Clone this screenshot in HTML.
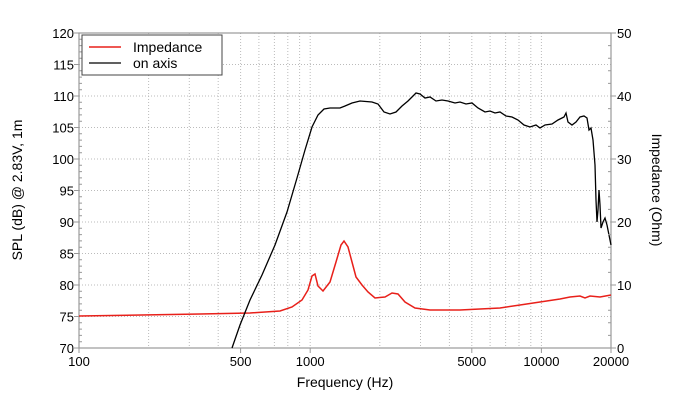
<!DOCTYPE html>
<html><head><style>body{margin:0;background:#fff}</style></head><body>
<svg width="689" height="413" xmlns="http://www.w3.org/2000/svg" font-family="Liberation Sans, sans-serif" font-size="13">
<rect width="689" height="413" fill="#fff"/>
<g stroke="#bbb" stroke-dasharray="1,2" stroke-width="1">
<line x1="79" y1="96" x2="611" y2="96"/><line x1="79" y1="64.5" x2="611" y2="64.5"/>
<line x1="79" y1="127.5" x2="611" y2="127.5"/><line x1="79" y1="159" x2="611" y2="159"/><line x1="79" y1="190.5" x2="611" y2="190.5"/>
<line x1="79" y1="222" x2="611" y2="222"/><line x1="79" y1="253.5" x2="611" y2="253.5"/><line x1="79" y1="285" x2="611" y2="285"/><line x1="79" y1="316.5" x2="611" y2="316.5"/>
<line x1="148.6" y1="33" x2="148.6" y2="348"/><line x1="189.3" y1="33" x2="189.3" y2="348"/><line x1="218.2" y1="33" x2="218.2" y2="348"/><line x1="240.6" y1="33" x2="240.6" y2="348"/><line x1="258.9" y1="33" x2="258.9" y2="348"/><line x1="274.4" y1="33" x2="274.4" y2="348"/><line x1="287.8" y1="33" x2="287.8" y2="348"/><line x1="299.6" y1="33" x2="299.6" y2="348"/><line x1="310.2" y1="33" x2="310.2" y2="348"/>
<line x1="379.8" y1="33" x2="379.8" y2="348"/><line x1="420.5" y1="33" x2="420.5" y2="348"/><line x1="449.4" y1="33" x2="449.4" y2="348"/><line x1="471.8" y1="33" x2="471.8" y2="348"/><line x1="490.1" y1="33" x2="490.1" y2="348"/><line x1="505.6" y1="33" x2="505.6" y2="348"/><line x1="519" y1="33" x2="519" y2="348"/><line x1="530.8" y1="33" x2="530.8" y2="348"/><line x1="541.4" y1="33" x2="541.4" y2="348"/>
</g>
<rect x="79" y="33" width="532" height="315" fill="none" stroke="#999" stroke-width="1.2"/>
<g stroke="#999" stroke-width="1" id="tk"></g>
<polyline fill="none" stroke="#e8201a" stroke-width="1.5" points="79,316 200,314 250,313 280,311 292,307 302,300 308,290 312,276 315,274 318,286 323,291 330,282 336,262 341,245 344,241 348,247 352,262 356,277 362,285 368,292 375,298 385,297 392,293 398,294 405,302 415,308 430,310 460,310 500,308 520,305 540,302 560,299 570,297 580,296 585,298 590,296 600,297 611,295"/>
<polyline fill="none" stroke="#000" stroke-width="1.3" points="232,348 240,325 250,300 262,275 275,245 287,212 297,178 305,150 312,127 318,115 324,109 330,108 340,108 345,106 352,103 360,101 372,102 378,104 384,112 390,114 396,112 402,106 408,101 412,97 416,93 420,94 425,98 430,97 436,101 442,100 448,101 455,103 460,102 466,104 472,103 478,108 485,112 490,111 495,113 500,112 506,116 512,117 518,120 524,125 530,127 536,125 540,128 545,125 552,124 558,120 564,117 566,113 568,122 572,125 576,122 580,117 584,116 587,118 589,130 591,128 593,140 595,165 596,200 597,222 598,210 599,190 600,205 601,228 603,222 605,218 607,225 609,235 611,245"/>
<g fill="#000" text-anchor="end">
<text x="74" y="38">120</text><text x="74" y="69.5">115</text><text x="74" y="101">110</text><text x="74" y="132.5">105</text><text x="74" y="164">100</text><text x="74" y="195.5">95</text><text x="74" y="227">90</text><text x="74" y="258.5">85</text><text x="74" y="290">80</text><text x="74" y="321.5">75</text><text x="74" y="353">70</text>
</g>
<g fill="#000">
<text x="617" y="38">50</text><text x="617" y="101">40</text><text x="617" y="164">30</text><text x="617" y="227">20</text><text x="617" y="290">10</text><text x="617" y="353">0</text>
</g>
<g fill="#000" text-anchor="middle">
<text x="79" y="366">100</text><text x="240.6" y="366">500</text><text x="310.2" y="366">1000</text><text x="471.8" y="366">5000</text><text x="541.4" y="366">10000</text><text x="611" y="366">20000</text>
<text x="345" y="387" font-size="14">Frequency (Hz)</text>
<text transform="translate(22,190) rotate(-90)" font-size="14">SPL (dB) @ 2.83V, 1m</text>
<text transform="translate(652,190) rotate(90)" font-size="14">Impedance (Ohm)</text>
</g>
<g stroke="#999" stroke-width="1">
<path d="M79,39.3h3M79,45.6h3M79,51.9h3M79,58.2h3M79,70.8h3M79,77.1h3M79,83.4h3M79,89.7h3M79,102.3h3M79,108.6h3M79,114.9h3M79,121.2h3M79,133.8h3M79,140.1h3M79,146.4h3M79,152.7h3M79,165.3h3M79,171.6h3M79,177.9h3M79,184.2h3M79,196.8h3M79,203.1h3M79,209.4h3M79,215.7h3M79,228.3h3M79,234.6h3M79,240.9h3M79,247.2h3M79,259.8h3M79,266.1h3M79,272.4h3M79,278.7h3M79,291.3h3M79,297.6h3M79,303.9h3M79,310.2h3M79,322.8h3M79,329.1h3M79,335.4h3M79,341.7h3"/>
<path d="M74,33h5M74,64.5h5M74,96h5M74,127.5h5M74,159h5M74,190.5h5M74,222h5M74,253.5h5M74,285h5M74,316.5h5M74,348h5"/>
<path d="M611,45.6h-3M611,58.2h-3M611,70.8h-3M611,83.4h-3M611,108.6h-3M611,121.2h-3M611,133.8h-3M611,146.4h-3M611,171.6h-3M611,184.2h-3M611,196.8h-3M611,209.4h-3M611,234.6h-3M611,247.2h-3M611,259.8h-3M611,272.4h-3M611,297.6h-3M611,310.2h-3M611,322.8h-3M611,335.4h-3"/>
<path d="M611,33h5M611,96h5M611,159h5M611,222h5M611,285h5M611,348h5"/>
<path d="M79,348v5M240.6,348v5M310.2,348v5M471.8,348v5M541.4,348v5M611,348v5"/>
</g>
<rect x="82" y="35" width="140" height="40" fill="#fff" stroke="#444"/>
<line x1="89" y1="47" x2="121" y2="47" stroke="#e8201a" stroke-width="1.5"/>
<line x1="89" y1="63" x2="121" y2="63" stroke="#000" stroke-width="1.3"/>
<text x="133" y="52" font-size="14">Impedance</text>
<text x="133" y="68" font-size="14">on axis</text>
</svg>
</body></html>
